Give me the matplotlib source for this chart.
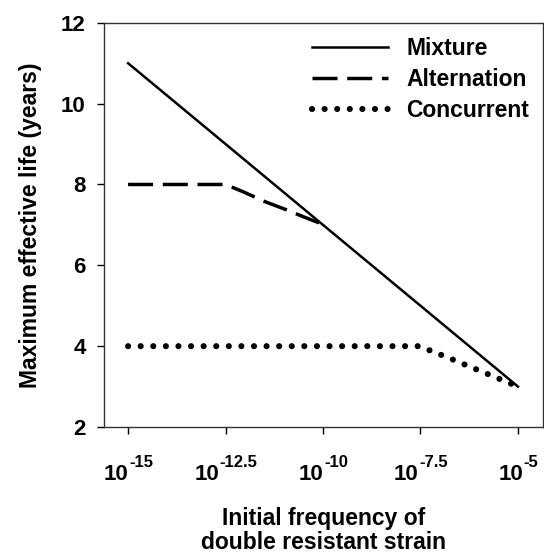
import matplotlib
matplotlib.use("Agg")
import matplotlib.pyplot as plt
from matplotlib.ticker import FixedLocator, NullLocator, NullFormatter
from matplotlib.transforms import blended_transform_factory, offset_copy

plt.rcParams['font.family'] = ['Liberation Sans', 'DejaVu Sans']
plt.rcParams['font.weight'] = 'bold'

# exponents of the initial frequency (x = 10**exp)
mix_exp = [-15, -5]
mix_life = [11, 3]

alt_exp = [-15, -12.5, -12.05, -11.5, -10.93, -10.5, -10.1]
alt_life = [8, 8, 7.82, 7.58, 7.37, 7.2, 7.05]

conc_exp = [-15, -7.55, -7.3, -6.8, -6.2, -5.6, -5]
conc_life = [4, 4, 3.91, 3.72, 3.48, 3.24, 3.0]

tick_exp = [-15, -12.5, -10, -7.5, -5]
tick_sup = ['-15', '-12.5', '-10', '-7.5', '-5']

fig = plt.figure(figsize=(5.44, 5.56), dpi=100)
ax = fig.add_axes([0.191, 0.232, 0.807, 0.727])

ax.plot([10 ** e for e in mix_exp], mix_life, color='black', lw=1.8, label='Mixture')
ax.plot([10 ** e for e in alt_exp], alt_life, color='black', lw=2.5,
        linestyle=(0, (7.2, 2.8)), label='Alternation')
ax.plot([10 ** e for e in conc_exp], conc_life, color='black', lw=4.4,
        linestyle=(0, (0.01, 2.05)), dash_capstyle='round', label='Concurrent')

ax.set_xscale('log')
ax.set_xlim(10 ** -15.62, 10 ** -4.36)
ax.set_ylim(2, 12)
ax.xaxis.set_major_locator(FixedLocator([10 ** e for e in tick_exp]))
ax.xaxis.set_minor_locator(NullLocator())
ax.xaxis.set_major_formatter(NullFormatter())
ax.set_yticks([2, 4, 6, 8, 10, 12])

ax.tick_params(axis='both', direction='out', length=5, width=1, labelsize=16)
ax.tick_params(axis='y', pad=8)
for s in ax.spines.values():
    s.set_linewidth(1)
    s.set_color('#333333')

# x tick labels: "10" with a raised exponent, centred on the tick
trans = blended_transform_factory(ax.transData, ax.transAxes)
renderer = fig.canvas.get_renderer()
for e, sup in zip(tick_exp, tick_sup):
    t1 = ax.text(10 ** e, 0, '10', fontsize=16, fontweight='bold', ha='left',
                 va='baseline', transform=trans)
    t2 = ax.text(10 ** e, 0, sup, fontsize=12, fontweight='bold', ha='left',
                 va='baseline', transform=trans)
    w1 = t1.get_window_extent(renderer).width
    w2 = t2.get_window_extent(renderer).width
    left = -(w1 + w2) / 2
    t1.set_transform(offset_copy(trans, fig=fig, x=left, y=-53, units='dots'))
    t2.set_transform(offset_copy(trans, fig=fig, x=left + w1 + 0.5, y=-40, units='dots'))

ax.set_ylabel('Maximum effective life (years)', fontsize=16.5, fontweight='bold', labelpad=14)
ax.text(0.5, -0.198, 'Initial frequency of\ndouble resistant strain', transform=ax.transAxes,
        fontsize=16.5, fontweight='bold', ha='center', va='top', linespacing=1.05)

leg = ax.legend(loc='upper right', frameon=False, fontsize=16.5, handlelength=3.3,
                handletextpad=0.8, labelspacing=0.35, borderaxespad=0.2)

fig.savefig('out.png', dpi=100)
